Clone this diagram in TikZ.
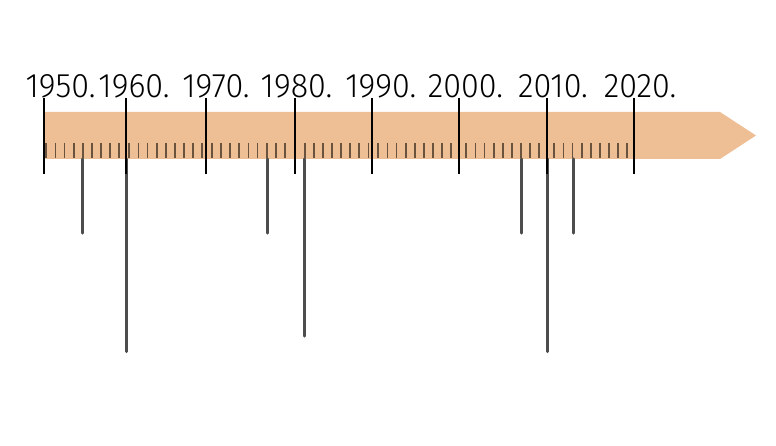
\documentclass[tikz,border=0pt]{standalone}
\usepackage{fontspec}
\newfontfamily\yearfont{Fira Sans Light}[FakeStretch=0.95]
\definecolor{band}{RGB}{238,190,149}
\definecolor{eventgray}{RGB}{77,77,77}
\definecolor{minorbrown}{RGB}{105,82,62}
\begin{document}
\begin{tikzpicture}[x=1pt,y=-1pt]
	\tikzset{year/.style={anchor=base,inner sep=0pt,font=\yearfont\fontsize{34}{34}\selectfont},
		decade/.style={black,line width=2pt},
		minortick/.style={minorbrown,line width=1.8pt},
		event/.style={eventgray,line width=3.2pt,line cap=round}}
	\useasboundingbox (0,0) rectangle (776,446);
	\def\bandtop{112}
	\def\bandbot{159}
	\fill[band] (44,\bandtop) -- (720,\bandtop) -- (756,135.5) -- (720,\bandbot) -- (44,\bandbot) -- cycle;
	\foreach \s/\n in {46.3/8,129.3/8,212/8,304.7/7,378.3/8,466.3/8,554.3/8}
		\foreach \k in {0,...,\n}
			\draw[minortick] (\s+9.1*\k,143) -- (\s+9.1*\k,158);
	\foreach \x/\e [count=\i] in {82.7/233,126.3/351.5,267.7/233,304.3/336,521.7/233,547.3/351.5,573.7/233} {
		\coordinate (e\i) at (\x,\bandbot);
		\draw[event] (e\i) -- (\x,\e);
	}
	\foreach \yr/\x/\c in {1950/44/60.5,1960/126.3/134,1970/205.7/216,1980/295/296.5,1990/371.7/380.7,2000/459.3/465.5,2010/547.3/553,2020/634/640} {
		\node[year] (y\yr) at (\c,97.7) {\yr.};
		\coordinate (t\yr) at (\x,98);
		\draw[decade] (t\yr) -- ++(0,76);
	}
\end{tikzpicture}
\end{document}
